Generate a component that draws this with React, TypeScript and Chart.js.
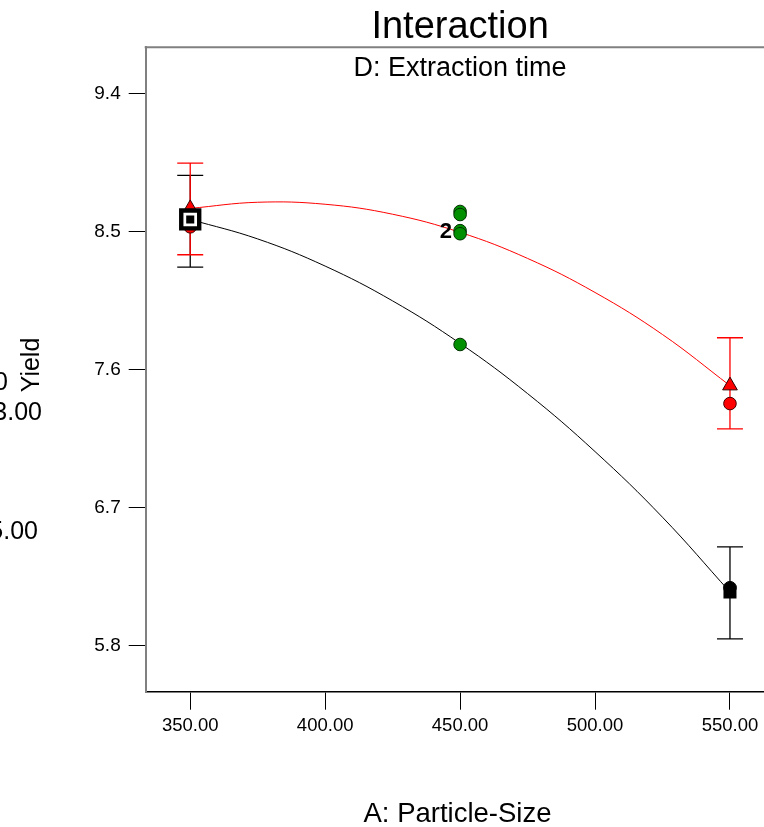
import React, { useEffect, useRef } from "react";
import { Chart, registerables } from "chart.js";

Chart.register(...registerables);

const FONT = "'Liberation Sans', Arial, Helvetica, sans-serif";

// Axis ticks
const xTicks = [350, 400, 450, 500, 550];
const yTicks = [5.8, 6.7, 7.6, 8.5, 9.4];

// Model prediction curves
const curveX = [350, 375, 400, 425, 450, 475, 500, 525, 550];
const curveHigh = [8.65, 8.69, 8.677, 8.612, 8.494, 8.324, 8.102, 7.828, 7.495];
const curveLow = [8.578, 8.451, 8.274, 8.047, 7.77, 7.443, 7.065, 6.637, 6.15];

// Factor levels and predicted means
const levels = [350, 550];
const predHigh = [8.65, 7.495];
const predLow = [8.578, 6.15];

// LSD bars
const barHighLo = [8.348, 7.213];
const barHighHi = [8.945, 7.807];
const barLowLo = [8.267, 5.844];
const barLowHi = [8.865, 6.444];

// Design points
const obsHigh = [8.53, 7.378];
const obsLow = [8.56, 6.178];
const centerX = [450, 450, 450, 450, 450];
const centerY = [8.63, 8.61, 8.505, 8.485, 7.763];

// Highlighted point
const selX = [350];
const selY = [8.578];

const pts = (xs: number[], ys: number[]) => xs.map((x, i) => ({ x, y: ys[i] }));

const extras = {
  id: "extras",
  beforeDatasetsDraw(chart: any) {
    const { ctx, scales } = chart;
    const x = scales.x;
    const y = scales.y;
    ctx.save();
    const drawBars = (lo: number[], hi: number[], color: string) => {
      ctx.strokeStyle = color;
      ctx.lineWidth = 1.3;
      levels.forEach((lv, i) => {
        const px = x.getPixelForValue(lv);
        const pl = y.getPixelForValue(lo[i]);
        const ph = y.getPixelForValue(hi[i]);
        ctx.beginPath();
        ctx.moveTo(px, pl);
        ctx.lineTo(px, ph);
        ctx.moveTo(px - 13, pl);
        ctx.lineTo(px + 13, pl);
        ctx.moveTo(px - 13, ph);
        ctx.lineTo(px + 13, ph);
        ctx.stroke();
      });
    };
    drawBars(barLowLo, barLowHi, "#000000");
    drawBars(barHighLo, barHighHi, "#ff0000");
    ctx.restore();
  },
  afterDraw(chart: any) {
    const { ctx, chartArea, scales } = chart;
    const x = scales.x;
    const y = scales.y;
    ctx.save();
    // top and right frame
    ctx.strokeStyle = "#808080";
    ctx.lineWidth = 2;
    ctx.beginPath();
    ctx.moveTo(chartArea.left - 1, chartArea.top);
    ctx.lineTo(chartArea.right, chartArea.top);
    ctx.stroke();
    ctx.strokeStyle = "#000";
    ctx.lineWidth = 1.5;
    ctx.beginPath();
    ctx.moveTo(chartArea.right, chartArea.top);
    ctx.lineTo(chartArea.right, chartArea.bottom);
    ctx.stroke();

    const cx = (chartArea.left + chartArea.right) / 2;
    ctx.fillStyle = "#000";
    ctx.textAlign = "center";
    ctx.textBaseline = "alphabetic";
    ctx.font = `38px ${FONT}`;
    ctx.fillText("Interaction", cx, 38);
    ctx.font = `27px ${FONT}`;
    ctx.fillText("D: Extraction time", cx, 76);
    ctx.font = `27.5px ${FONT}`;
    ctx.fillText("A: Particle-Size", 457.5, 822);

    // y axis title
    ctx.save();
    ctx.translate(39, 365);
    ctx.rotate(-Math.PI / 2);
    ctx.font = `25px ${FONT}`;
    ctx.textAlign = "center";
    ctx.fillText("Yield", 0, 0);
    ctx.restore();

    // legend fragments cut by the left edge
    ctx.font = `25px ${FONT}`;
    ctx.textAlign = "right";
    ctx.fillText("D+ 60", 8, 390);
    ctx.fillText("B = 13.00", 42, 420);
    ctx.fillText("C = 5.00", 38, 539);

    // replicate count label
    ctx.font = `bold 22px ${FONT}`;
    ctx.textAlign = "right";
    ctx.textBaseline = "middle";
    ctx.fillText("2", x.getPixelForValue(450) - 8, y.getPixelForValue(8.495));
    ctx.restore();
  },
};

export default function App() {
  const ref = useRef<HTMLCanvasElement | null>(null);
  useEffect(() => {
    if (!ref.current) return;
    const chart = new Chart(ref.current, {
      type: "scatter",
      data: {
        datasets: [
          {
            data: pts(selX, selY),
            pointStyle: "rect",
            pointRadius: 5.7,
            backgroundColor: "#000",
            borderWidth: 0,
            order: 0,
          },
          {
            data: pts(selX, selY),
            pointStyle: "rect",
            pointRadius: 9.6,
            backgroundColor: "#fff",
            borderWidth: 0,
            order: 1,
          },
          {
            data: pts(selX, selY),
            pointStyle: "rect",
            pointRadius: 15.8,
            backgroundColor: "#000",
            borderWidth: 0,
            order: 2,
          },
          {
            data: pts(levels, predLow),
            pointStyle: "rect",
            pointRadius: 9.2,
            backgroundColor: "#000",
            borderWidth: 0,
            order: 3,
          },
          {
            data: pts(levels, predHigh),
            pointStyle: "triangle",
            pointRadius: 8.5,
            backgroundColor: "#ff0000",
            borderColor: "#300000",
            borderWidth: 1,
            order: 4,
          },
          {
            data: pts(levels, obsLow),
            pointStyle: "circle",
            pointRadius: 6.3,
            backgroundColor: "#000",
            borderColor: "#000",
            borderWidth: 1,
            order: 5,
          },
          {
            data: pts(levels, obsHigh),
            pointStyle: "circle",
            pointRadius: 6.3,
            backgroundColor: "#ff0000",
            borderColor: "#400000",
            borderWidth: 1,
            order: 6,
          },
          {
            data: pts(centerX, centerY),
            pointStyle: "circle",
            pointRadius: 6.3,
            backgroundColor: "#009000",
            borderColor: "#003000",
            borderWidth: 1,
            order: 7,
          },
          {
            data: pts(curveX, curveHigh),
            showLine: true,
            pointRadius: 0,
            borderColor: "#ff0000",
            borderWidth: 1,
            tension: 0.4,
            fill: false,
            order: 8,
          },
          {
            data: pts(curveX, curveLow),
            showLine: true,
            pointRadius: 0,
            borderColor: "#000000",
            borderWidth: 1,
            tension: 0.4,
            fill: false,
            order: 9,
          },
        ],
      },
      options: {
        animation: false,
        responsive: false,
        devicePixelRatio: 1,
        layout: { padding: { left: 0, top: 47.3, right: 25.5, bottom: 0 } },
        plugins: {
          legend: { display: false },
          tooltip: { enabled: false },
          title: { display: false },
        },
        scales: {
          x: {
            type: "linear",
            position: "bottom",
            min: 333.5,
            max: 566.5,
            afterBuildTicks: (s: any) => {
              s.ticks = xTicks.map((v) => ({ value: v }));
            },
            afterFit: (s: any) => {
              s.height = 135.3;
            },
            ticks: {
              callback: (v: any) => Number(v).toFixed(2),
              color: "#000",
              font: { family: FONT, size: 18.5 },
              padding: 5,
              maxRotation: 0,
              autoSkip: false,
            },
            grid: {
              display: true,
              drawOnChartArea: false,
              drawTicks: true,
              tickLength: 18,
              color: "#000",
              lineWidth: 1,
            },
            border: { display: true, color: "#000", width: 1.5 },
          },
          y: {
            type: "linear",
            min: 5.5,
            max: 9.7,
            afterBuildTicks: (s: any) => {
              s.ticks = yTicks.map((v) => ({ value: v }));
            },
            afterFit: (s: any) => {
              s.width = 145.7;
            },
            ticks: {
              callback: (v: any) => Number(v).toFixed(1),
              color: "#000",
              font: { family: FONT, size: 19 },
              padding: 8,
              autoSkip: false,
            },
            grid: {
              display: true,
              drawOnChartArea: false,
              drawTicks: true,
              tickLength: 17,
              color: "#000",
              lineWidth: 1,
            },
            border: { display: true, color: "#808080", width: 2 },
          },
        },
      } as any,
      plugins: [extras],
    });
    return () => chart.destroy();
  }, []);

  return (
    <div
      style={{
        position: "absolute",
        left: 0,
        top: 0,
        width: 764,
        height: 827,
        overflow: "hidden",
        background: "#fff",
      }}
    >
      <canvas ref={ref} width={800} height={827} style={{ display: "block" }} />
    </div>
  );
}
